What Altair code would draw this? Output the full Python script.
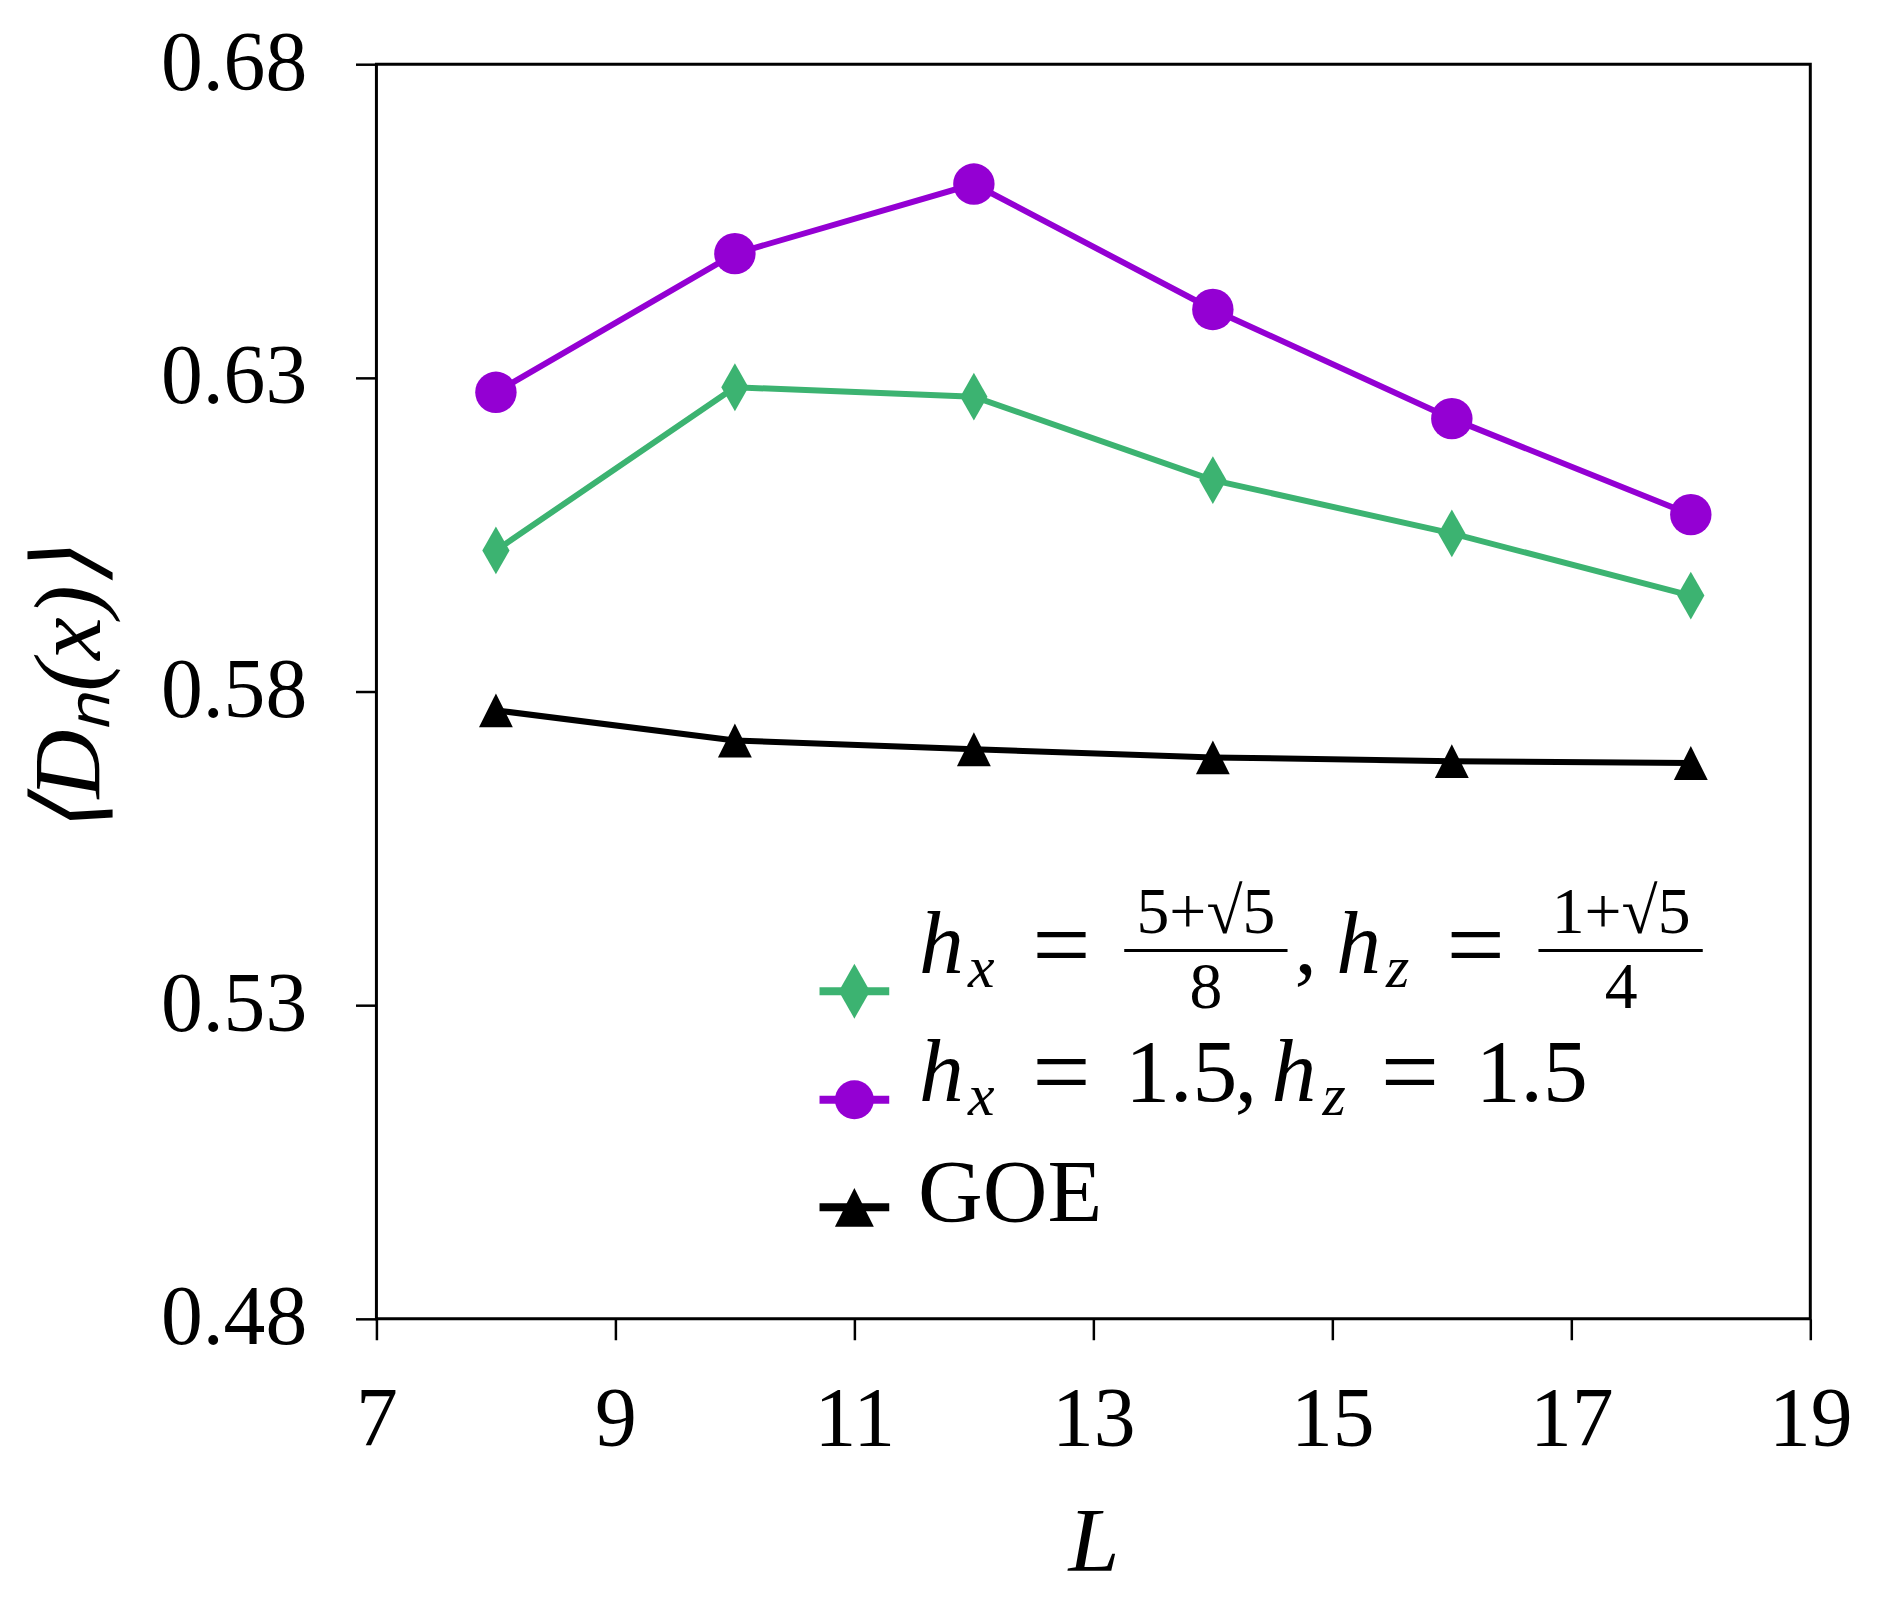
import altair as alt
import pandas as pd

# ---------------- data ----------------
L = [8, 10, 12, 14, 16, 18]
golden = [0.6025, 0.6285, 0.6270, 0.6137, 0.6052, 0.5953]   # hx=(5+√5)/8, hz=(1+√5)/4
h15 = [0.6277, 0.6498, 0.6609, 0.6409, 0.6235, 0.6082]      # hx=1.5, hz=1.5
goe = [0.5770, 0.5722, 0.5708, 0.5695, 0.5689, 0.5686]      # GOE
series_names = ["golden", "h15", "GOE"]
colors = ["#3CB371", "#9400D3", "#000000"]
x_ticks = [7, 9, 11, 13, 15, 17, 19]
y_ticks = [0.48, 0.53, 0.58, 0.63, 0.68]

FONT = "Liberation Serif"
DIAMOND = "M0,-1L0.57,0L0,1L-0.57,0Z"
TRIANGLE = "M0,-1L1,1L-1,1Z"
shapes = [DIAMOND, "circle", TRIANGLE]
sizes = [2304, 1156, 1225]

rows = []
for name, vals in zip(series_names, [golden, h15, goe]):
    for l, v in zip(L, vals):
        rows.append({"L": l, "D": v, "series": name})
df = pd.DataFrame(rows)

W, H = 1440, 1260
xenc = alt.X("L:Q", scale=alt.Scale(domain=[7, 19], nice=False, zero=False),
             axis=alt.Axis(values=x_ticks, title="L", format="d"))
yenc = alt.Y("D:Q", scale=alt.Scale(domain=[0.48, 0.68], nice=False, zero=False),
             axis=alt.Axis(values=y_ticks, title="⟨Dₙ(x)⟩", format=".2f"))
cenc = alt.Color("series:N", scale=alt.Scale(domain=series_names, range=colors), legend=None)

base = alt.Chart(df)
lines = base.mark_line(strokeWidth=6).encode(x=xenc, y=yenc, color=cenc, detail="series:N")
points = base.mark_point(filled=True, opacity=1).encode(
    x=xenc, y=yenc, color=cenc,
    shape=alt.Shape("series:N", scale=alt.Scale(domain=series_names, range=shapes), legend=None),
    size=alt.Size("series:N", scale=alt.Scale(domain=series_names, range=sizes), legend=None),
)

one = pd.DataFrame({"k": [0]})


def txt(s, x, y, size, style="normal", align="left"):
    return alt.Chart(one).mark_text(
        text=s, font=FONT, fontSize=size, fontStyle=style, align=align,
        baseline="alphabetic", color="black"
    ).encode(x=alt.value(x), y=alt.value(y))


def hline(x1, x2, y, w, color="black"):
    return alt.Chart(one).mark_rule(strokeWidth=w, color=color).encode(
        x=alt.value(x1), x2=alt.value(x2), y=alt.value(y))


def marker(shape, size, color, x, y):
    return alt.Chart(one).mark_point(shape=shape, size=size, filled=True, opacity=1,
                                     color=color).encode(x=alt.value(x), y=alt.value(y))


leg = []
# handles
leg += [hline(445, 515, 931, 8, colors[0]), marker(DIAMOND, 3025, colors[0], 480, 931)]
leg += [hline(445, 515, 1040, 8, colors[1]), marker("circle", 1521, colors[1], 480, 1040)]
leg += [hline(445, 515, 1148, 8, colors[2]), marker(TRIANGLE, 1521, colors[2], 480, 1148)]

MS, SS, FS, ES = 90, 60, 66, 104
NUM_B, DEN_B = 873, 948
# row 1
leg += [
    txt("h", 545, 913, MS, "italic"),
    txt("x", 594, 927, SS, "italic"),
    txt("=", 688, 920, ES, align="center"),
    hline(751, 915, 890, 3),
    txt("5+√5", 833, NUM_B, FS, align="center"),
    txt("8", 833, DEN_B, FS, align="center"),
    txt(",", 922, 913, MS),
    txt("h", 964, 913, MS, "italic"),
    txt("z", 1014, 927, SS, "italic"),
    txt("=", 1104, 920, ES, align="center"),
    hline(1167, 1332, 890, 3),
    txt("1+√5", 1250, NUM_B, FS, align="center"),
    txt("4", 1250, DEN_B, FS, align="center"),
]
# row 2
leg += [
    txt("h", 545, 1041, MS, "italic"),
    txt("x", 594, 1055, SS, "italic"),
    txt("=", 688, 1047, ES, align="center"),
    txt("1.5", 752, 1041, MS),
    txt(",", 862, 1041, MS),
    txt("h", 899, 1041, MS, "italic"),
    txt("z", 950, 1055, SS, "italic"),
    txt("=", 1038, 1047, ES, align="center"),
    txt("1.5", 1104, 1041, MS),
]
# row 3
leg += [txt("GOE", 544, 1162, MS)]

chart = alt.layer(lines, points, *leg).properties(
    width=W, height=H,
    autosize=alt.AutoSizeParams(type="none"),
    padding={"left": 370, "top": 53, "right": 71, "bottom": 299},
).configure_axis(
    labelFont=FONT, labelFontSize=84, labelColor="black",
    tickColor="black", tickWidth=2.5, tickSize=21,
    domain=False, grid=False,
    titleFont=FONT, titleFontSize=92, titleFontStyle="italic",
    titleFontWeight="normal", titleColor="black",
    labelFlush=False, labelOverlap=False, labelBound=False,
).configure_axisX(
    labelPadding=40, titlePadding=36,
).configure_axisY(
    labelPadding=49, titlePadding=58, titleFontSize=96,
).configure_view(stroke="black", strokeWidth=3)

chart.save("out.html", embed_options={"renderer": "svg", "actions": False})
